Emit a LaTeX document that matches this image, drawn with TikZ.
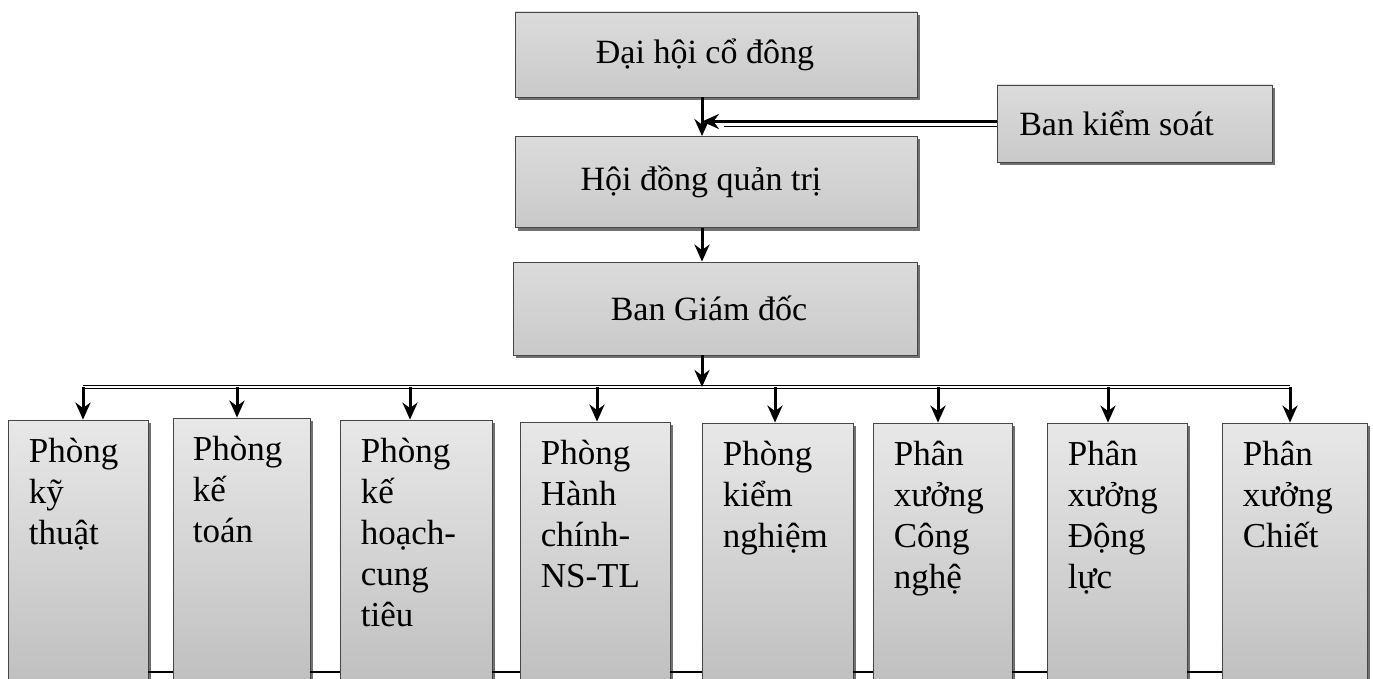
\documentclass[tikz,border=0pt]{standalone}
\usepackage{fontspec}
\setmainfont{Liberation Serif}
\usetikzlibrary{shadows,arrows.meta}
\begin{document}
\begin{tikzpicture}[x=1pt,y=-1pt,
  boxbase/.style={draw=gray!55!black, line width=0.8pt,
    drop shadow={shadow xshift=3pt, shadow yshift=-3pt, fill=gray!75!black, opacity=0.9}},
  topbox/.style={boxbase, top color=gray!28, bottom color=gray!42,
    font=\fontsize{34}{40}\selectfont, inner sep=0pt},
  unitbox/.style={boxbase, top color=gray!18, bottom color=gray!52, inner sep=0pt},
  unittext/.style={anchor=north west, inner sep=0pt, align=left,
    font=\fontsize{35}{41}\selectfont},
  arr/.style={line width=3pt, -{Stealth[length=17pt,width=15pt]}},
  barline/.style={line width=1.3pt, double distance=2.2pt},
  foot/.style={line width=1.6pt}
]
\useasboundingbox (0,0) rectangle (1373,679);
\clip (0,0) rectangle (1373,679);

% top boxes
\node[topbox, minimum width=402pt, minimum height=85pt] (dh) at (716,54.5) {\hspace*{-22pt}Đại hội cổ đông};
\node[topbox, minimum width=402pt, minimum height=91pt] (hd) at (716,182) {\hspace*{-30pt}Hội đồng quản trị};
\node[topbox, minimum width=404pt, minimum height=93pt] (bg) at (715,308.5) {\hspace*{-12pt}Ban Giám đốc};
\node[topbox, minimum width=275pt, minimum height=77pt] (bk) at (1134.5,123.5) {\hspace*{-36pt}Ban kiểm soát};

% arrows between top boxes
\draw[arr] ([xshift=-14pt]dh.south) -- ([xshift=-14pt]hd.north);
\draw[arr] ([xshift=-14pt]hd.south) -- ([xshift=-13pt]bg.north);
\coordinate (bkt) at ([xshift=-14pt]dh.south |- bk.west);
\draw[line width=2.6pt, -{Stealth[length=17pt,width=15pt]}] ([yshift=2pt]bk.west) -- ([yshift=2pt]bkt);
\draw[line width=0.9pt] ([yshift=-3pt]bk.west) -- ([yshift=-3pt,xshift=22pt]bkt);

% bar
\coordinate (bar0) at (83,387);
\coordinate (bar9) at (1290,387);
\draw[barline] (bar0) -- (bar9);
\draw[arr] ([xshift=-13pt]bg.south) -- ([xshift=-13pt]bg.south |- bar0);

% unit boxes
\node[unitbox, minimum width=140pt, minimum height=280pt] (b1) at (78,560) {};
\node[unitbox, minimum width=137pt, minimum height=282pt] (b2) at (241.5,559) {};
\node[unitbox, minimum width=152pt, minimum height=280pt] (b3) at (416,560) {};
\node[unitbox, minimum width=150pt, minimum height=278pt] (b4) at (595,561) {};
\node[unitbox, minimum width=151pt, minimum height=277pt] (b5) at (777.5,561.5) {};
\node[unitbox, minimum width=139pt, minimum height=277pt] (b6) at (942.5,561.5) {};
\node[unitbox, minimum width=140pt, minimum height=277pt] (b7) at (1117,561.5) {};
\node[unitbox, minimum width=145pt, minimum height=277pt] (b8) at (1294.5,561.5) {};

\foreach \i/\dx in {1/5,2/-4.5,3/-6,4/2,5/-2.5,6/-4.5,7/-9,8/-4.5}{
  \coordinate (t\i) at ([xshift=\dx pt]b\i.north);
  \draw[arr] (t\i |- bar0) -- (t\i);
}

% texts
\node[unittext] (l1) at ([xshift=21pt,yshift=-18pt]b1.north west) {Phòng\\kỹ\\thuật};
\node[unittext] (l2) at ([xshift=20pt,yshift=-18pt]b2.north west) {Phòng\\kế\\toán};
\node[unittext] (l3) at ([xshift=21pt,yshift=-18pt]b3.north west) {Phòng\\kế\\hoạch-\\cung\\tiêu};
\node[unittext] (l4) at ([xshift=21pt,yshift=-18pt]b4.north west) {Phòng\\Hành\\chính-\\NS-TL};
\node[unittext] (l5) at ([xshift=21pt,yshift=-18pt]b5.north west) {Phòng\\kiểm\\nghiệm};
\node[unittext] (l6) at ([xshift=21pt,yshift=-18pt]b6.north west) {Phân\\xưởng\\Công\\nghệ};
\node[unittext] (l7) at ([xshift=21pt,yshift=-18pt]b7.north west) {Phân\\xưởng\\Động\\lực};
\node[unittext] (l8) at ([xshift=21pt,yshift=-18pt]b8.north west) {Phân\\xưởng\\Chiết};

% bottom connecting line
\coordinate (fl) at (0,672);
\foreach \a/\b in {1/2,2/3,3/4,4/5,5/6,6/7,7/8}{
  \draw[foot] (b\a.east |- fl) -- (b\b.west |- fl);
}
\end{tikzpicture}
\end{document}
